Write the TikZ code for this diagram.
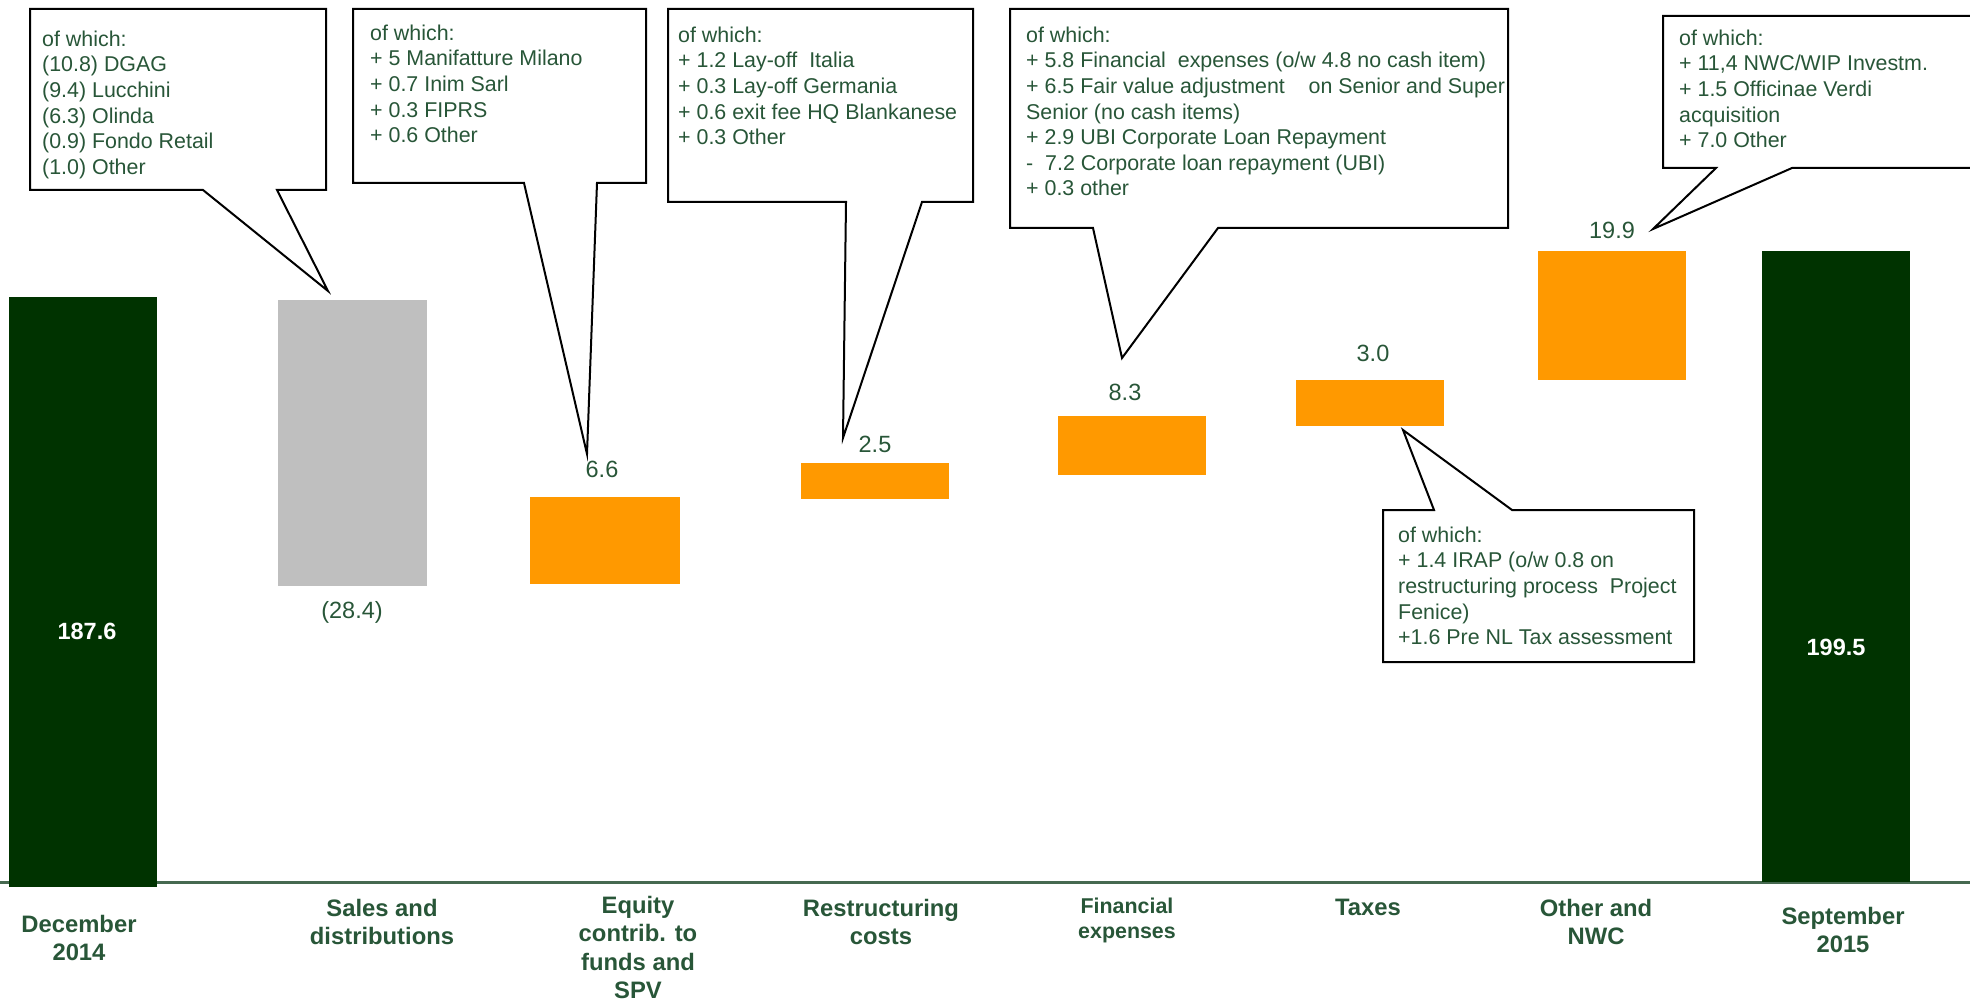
\documentclass[tikz,border=0pt]{standalone}
\usepackage{fontspec}
\setmainfont{Liberation Sans}
\usepackage{tikz}
\usetikzlibrary{calc}
\usetikzlibrary{positioning}
\definecolor{dark-green}{RGB}{0,51,0}
\definecolor{text-green}{RGB}{40,86,56}
\definecolor{bar-orange}{RGB}{255,153,0}
\definecolor{bar-gray}{RGB}{191,191,191}
\definecolor{axis-green}{RGB}{70,105,80}

\begin{document}
\begin{tikzpicture}[x=1pt, y=-1pt,
    callout/.style={draw=black, line width=2pt, fill=white, line join=miter},
    note/.style={anchor=north west, inner sep=0pt, align=left, text=text-green,
        font=\fontsize{21.4}{25.6}\selectfont},
    value/.style={anchor=base, inner sep=0pt, text=text-green,
        font=\fontsize{23.5}{28}\selectfont},
    total/.style={anchor=base, inner sep=0pt, text=white,
        font=\fontsize{23.5}{28}\selectfont\bfseries},
    category/.style={anchor=north, inner sep=0pt, align=center, text=text-green,
        font=\fontsize{23.8}{28.3}\selectfont\bfseries}]

\useasboundingbox (0, 0) rectangle (1970, 1003);

% ---------------------------------------------------
% Axis
\coordinate[] (a0) at (0, 882);
\coordinate[] (a1) at (1970, 882);
\draw[axis-green, line width=3pt] (a0) -- (a1);

% Bars
\fill[dark-green]  (9, 297)    rectangle (157, 887);   % December 2014
\fill[bar-gray]    (278, 300)  rectangle (427, 586);   % Sales
\fill[bar-orange]  (530, 497)  rectangle (680, 584);   % Equity
\fill[bar-orange]  (801, 463)  rectangle (949, 499);   % Restructuring
\fill[bar-orange]  (1058, 416) rectangle (1206, 475);  % Financial
\fill[bar-orange]  (1296, 380) rectangle (1444, 426);  % Taxes
\fill[bar-orange]  (1538, 251) rectangle (1686, 380);  % Other and NWC
\fill[dark-green]  (1762, 251) rectangle (1910, 882);  % September 2015

% Values
\node[total] (v0) at (87, 639)   {187.6};
\node[value] (v1) at (352, 618)  {(28.4)};
\node[value] (v2) at (602, 477)  {6.6};
\node[value] (v3) at (875, 452)  {2.5};
\node[value] (v4) at (1125, 400) {8.3};
\node[value] (v5) at (1373, 361) {3.0};
\node[value] (v6) at (1612, 239) {19.9};
\node[total] (v7) at (1836, 655) {199.5};

% ---------------------------------------------------
% Categories
\node[category] (c0) at (79, 915)   {December\\2014};
\node[category] (c1) at (382, 899)  {Sales and\\distributions};
\node[category] (c2) at (638, 896)  {Equity\\contrib. to\\funds and\\SPV};
\node[category] (c3) at (881, 899)  {Restructuring\\costs};
\node[category, font=\fontsize{21.4}{25}\selectfont\bfseries]
                (c4) at (1127, 898) {Financial\\expenses};
\node[category] (c5) at (1368, 899) {Taxes};
\node[category] (c6) at (1596, 899) {Other and\\NWC};
\node[category] (c7) at (1843, 907) {September\\2015};

% ---------------------------------------------------
% Callouts - tips
\coordinate[] (t1) at (328, 291);
\coordinate[] (t2) at (587, 454);
\coordinate[] (t3) at (843, 438);
\coordinate[] (t4) at (1122, 358);
\coordinate[] (t5) at (1653, 229);
\coordinate[] (t6) at (1403, 430);

% Sales
\draw[callout] (30, 9) -- (326, 9) -- (326, 190) -- (277, 190)
    -- (t1) -- (203, 190) -- (30, 190) -- cycle;
\node[note] (n1) at (42, 30.5)
    {of which:\\(10.8) DGAG\\(9.4) Lucchini\\(6.3) Olinda\\(0.9) Fondo Retail\\(1.0) Other};

% Equity
\draw[callout] (353, 9) -- (646, 9) -- (646, 183) -- (597, 183)
    -- (t2) -- (524, 183) -- (353, 183) -- cycle;
\node[note] (n2) at (370, 24.5)
    {of which:\\+ 5 Manifatture Milano\\+ 0.7 Inim Sarl\\+ 0.3 FIPRS\\+ 0.6 Other};

% Restructuring
\draw[callout] (668, 9) -- (973, 9) -- (973, 202) -- (922, 202)
    -- (t3) -- (846, 202) -- (668, 202) -- cycle;
\node[note] (n3) at (678, 26.5)
    {of which:\\+ 1.2 Lay-off\ \ Italia\\+ 0.3 Lay-off Germania\\+ 0.6 exit fee HQ Blankanese\\+ 0.3 Other};

% Financial
\draw[callout] (1010, 9) -- (1508, 9) -- (1508, 228) -- (1218, 228)
    -- (t4) -- (1093, 228) -- (1010, 228) -- cycle;
\begin{scope}
\clip (1010, 9) rectangle (1507, 228);
\node[note] (n4) at (1026, 26.5)
    {of which:\\+ 5.8 Financial\ \ expenses (o/w 4.8 no cash item)\\+ 6.5 Fair value adjustment\ \ \ \ on Senior and Super\\Senior (no cash items)\\+ 2.9 UBI Corporate Loan Repayment\\-\ \ 7.2 Corporate loan repayment (UBI)\\+ 0.3 other};
\end{scope}

% Other and NWC
\draw[callout] (1663, 16) -- (1976, 16) -- (1976, 168) -- (1792, 168)
    -- (t5) -- (1716, 168) -- (1663, 168) -- cycle;
\node[note] (n5) at (1679, 29.5)
    {of which:\\+ 11,4 NWC/WIP Investm.\\+ 1.5 Officinae Verdi\\acquisition\\+ 7.0 Other};

% Taxes
\draw[callout] (1383, 510) -- (1434, 510) -- (t6) -- (1512, 510)
    -- (1694, 510) -- (1694, 662) -- (1383, 662) -- cycle;
\node[note] (n6) at (1398, 526.5)
    {of which:\\+ 1.4 IRAP (o/w 0.8 on\\restructuring process\ \ Project\\Fenice)\\+1.6 Pre NL Tax assessment};
% ---------------------------------------------------
\end{tikzpicture}
\end{document}
